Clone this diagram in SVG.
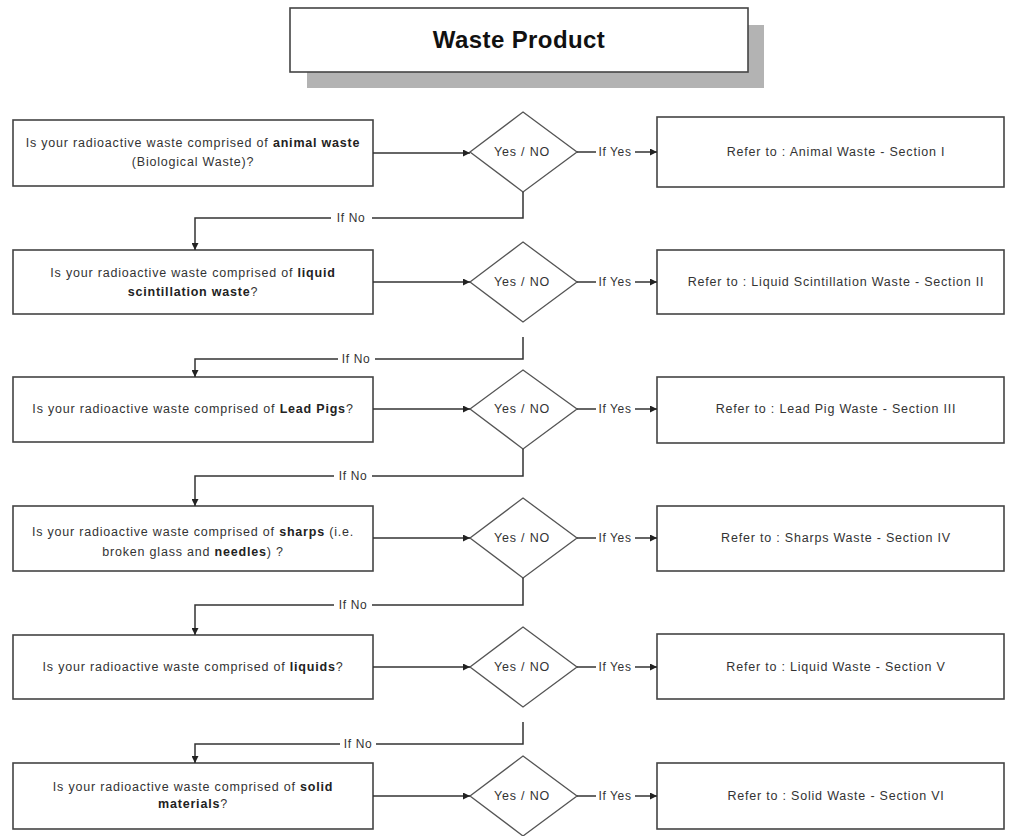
<svg xmlns="http://www.w3.org/2000/svg" width="1011" height="836" viewBox="0 0 1011 836">
<defs>
<style>
.box{fill:#fff;stroke:#444;stroke-width:1.6}
.dia{fill:#fff;stroke:#555;stroke-width:1.3}
.ln{fill:none;stroke:#333;stroke-width:1.5}
.t{font-family:"Liberation Sans",Arial,sans-serif;font-size:12.5px;fill:#333;letter-spacing:0.8px;text-anchor:middle}
.lb{font-family:"Liberation Sans",Arial,sans-serif;font-size:12px;fill:#333;letter-spacing:0.6px;text-anchor:middle}
.b{font-weight:bold;fill:#222}
.title{font-family:"Liberation Sans",Arial,sans-serif;font-size:24px;font-weight:bold;fill:#111;letter-spacing:0.4px;text-anchor:middle}
</style>
<marker id="ah" viewBox="0 0 10 10" refX="10" refY="5" markerWidth="9" markerHeight="7" markerUnits="userSpaceOnUse" orient="auto">
<path d="M0,0 L10,5 L0,10 z" fill="#222"/>
</marker>
</defs>
<rect width="1011" height="836" fill="#fff"/>

<g id="title">
<rect x="307" y="25" width="457" height="63" fill="#b3b3b3"/>
<rect class="box" x="290" y="8" width="458" height="64"/>
<text class="title" x="519" y="48">Waste Product</text>
</g>

<g id="q1"><rect class="box" x="13" y="120" width="360" height="66"/>
<text class="t" x="193" y="147">Is your radioactive waste comprised of <tspan class="b">animal waste</tspan></text>
<text class="t" x="193" y="166">(Biological Waste)?</text></g>
<g id="q2"><rect class="box" x="13" y="250" width="360" height="64"/>
<text class="t" x="193" y="277">Is your radioactive waste comprised of <tspan class="b">liquid</tspan></text>
<text class="t" x="193" y="296"><tspan class="b">scintillation waste</tspan>?</text></g>
<g id="q3"><rect class="box" x="13" y="377" width="360" height="65"/>
<text class="t" x="193" y="413">Is your radioactive waste comprised of <tspan class="b">Lead Pigs</tspan>?</text></g>
<g id="q4"><rect class="box" x="13" y="506" width="360" height="65"/>
<text class="t" x="193" y="536">Is your radioactive waste comprised of <tspan class="b">sharps</tspan> (i.e.</text>
<text class="t" x="193" y="556">broken glass and <tspan class="b">needles</tspan>) ?</text></g>
<g id="q5"><rect class="box" x="13" y="635" width="360" height="64"/>
<text class="t" x="193" y="671">Is your radioactive waste comprised of <tspan class="b">liquids</tspan>?</text></g>
<g id="q6"><rect class="box" x="13" y="763" width="360" height="66"/>
<text class="t" x="193" y="791">Is your radioactive waste comprised of <tspan class="b">solid</tspan></text>
<text class="t" x="193" y="808"><tspan class="b">materials</tspan>?</text></g>

<g id="d1"><path class="dia" d="M523,112 L577,152 L523,192 L470,152 Z"/><text class="t" x="522" y="156">Yes / NO</text></g>
<g id="d2"><path class="dia" d="M523,242 L577,282 L523,322 L470,282 Z"/><text class="t" x="522" y="286">Yes / NO</text></g>
<g id="d3"><path class="dia" d="M523,370 L577,409 L523,449 L470,409 Z"/><text class="t" x="522" y="413">Yes / NO</text></g>
<g id="d4"><path class="dia" d="M523,498 L577,538 L523,578 L470,538 Z"/><text class="t" x="522" y="542">Yes / NO</text></g>
<g id="d5"><path class="dia" d="M523,627 L577,667 L523,707 L470,667 Z"/><text class="t" x="522" y="671">Yes / NO</text></g>
<g id="d6"><path class="dia" d="M523,756 L577,796 L523,836 L470,796 Z"/><text class="t" x="522" y="800">Yes / NO</text></g>

<g id="r1"><rect class="box" x="657" y="117" width="347" height="70"/><text class="t" x="836" y="156">Refer to : Animal Waste - Section I</text></g>
<g id="r2"><rect class="box" x="657" y="250" width="347" height="64"/><text class="t" x="836" y="286">Refer to : Liquid Scintillation Waste - Section II</text></g>
<g id="r3"><rect class="box" x="657" y="377" width="347" height="66"/><text class="t" x="836" y="413">Refer to : Lead Pig Waste - Section III</text></g>
<g id="r4"><rect class="box" x="657" y="506" width="347" height="65"/><text class="t" x="836" y="542">Refer to : Sharps Waste - Section IV</text></g>
<g id="r5"><rect class="box" x="657" y="634" width="347" height="65"/><text class="t" x="836" y="671">Refer to : Liquid Waste - Section V</text></g>
<g id="r6"><rect class="box" x="657" y="763" width="347" height="66"/><text class="t" x="836" y="800">Refer to : Solid Waste - Section VI</text></g>

<g id="connectors">
<!-- question to diamond -->
<line class="ln" x1="373" y1="153" x2="470" y2="153" stroke-width="2" marker-end="url(#ah)"/>
<line class="ln" x1="373" y1="282" x2="470" y2="282" stroke-width="2" marker-end="url(#ah)"/>
<line class="ln" x1="373" y1="409" x2="470" y2="409" marker-end="url(#ah)"/>
<line class="ln" x1="373" y1="538" x2="470" y2="538" marker-end="url(#ah)"/>
<line class="ln" x1="373" y1="667" x2="470" y2="667" marker-end="url(#ah)"/>
<line class="ln" x1="373" y1="796" x2="470" y2="796" marker-end="url(#ah)"/>
<!-- If Yes -->
<g id="yes1"><line class="ln" x1="577" y1="152" x2="596" y2="152"/><text class="lb" x="615" y="156">If Yes</text><line class="ln" x1="635" y1="152" x2="657" y2="152" marker-end="url(#ah)"/></g>
<g id="yes2"><line class="ln" x1="577" y1="282" x2="596" y2="282"/><text class="lb" x="615" y="286">If Yes</text><line class="ln" x1="635" y1="282" x2="657" y2="282" marker-end="url(#ah)"/></g>
<g id="yes3"><line class="ln" x1="577" y1="409" x2="596" y2="409"/><text class="lb" x="615" y="413">If Yes</text><line class="ln" x1="635" y1="409" x2="657" y2="409" marker-end="url(#ah)"/></g>
<g id="yes4"><line class="ln" x1="577" y1="538" x2="596" y2="538"/><text class="lb" x="615" y="542">If Yes</text><line class="ln" x1="635" y1="538" x2="657" y2="538" marker-end="url(#ah)"/></g>
<g id="yes5"><line class="ln" x1="577" y1="667" x2="596" y2="667"/><text class="lb" x="615" y="671">If Yes</text><line class="ln" x1="635" y1="667" x2="657" y2="667" marker-end="url(#ah)"/></g>
<g id="yes6"><line class="ln" x1="577" y1="796" x2="596" y2="796"/><text class="lb" x="615" y="800">If Yes</text><line class="ln" x1="635" y1="796" x2="657" y2="796" marker-end="url(#ah)"/></g>
<!-- If No -->
<g id="no1"><path class="ln" d="M523,192 V218 H372"/><text class="lb" x="351" y="222">If No</text><path class="ln" d="M331,218 H195 V250" marker-end="url(#ah)"/></g>
<g id="no2"><path class="ln" d="M523,337 V359 H375"/><text class="lb" x="356" y="363">If No</text><path class="ln" d="M338,359 H195 V377" marker-end="url(#ah)"/></g>
<g id="no3"><path class="ln" d="M523,449 V476 H372"/><text class="lb" x="353" y="480">If No</text><path class="ln" d="M334,476 H195 V506" marker-end="url(#ah)"/></g>
<g id="no4"><path class="ln" d="M523,578 V605 H372"/><text class="lb" x="353" y="609">If No</text><path class="ln" d="M334,605 H195 V635" marker-end="url(#ah)"/></g>
<g id="no5"><path class="ln" d="M523,722 V744 H376" stroke-width="2"/><text class="lb" x="358" y="748">If No</text><path class="ln" d="M340,744 H195 V763" stroke-width="2" marker-end="url(#ah)"/></g>
</g>
</svg>
